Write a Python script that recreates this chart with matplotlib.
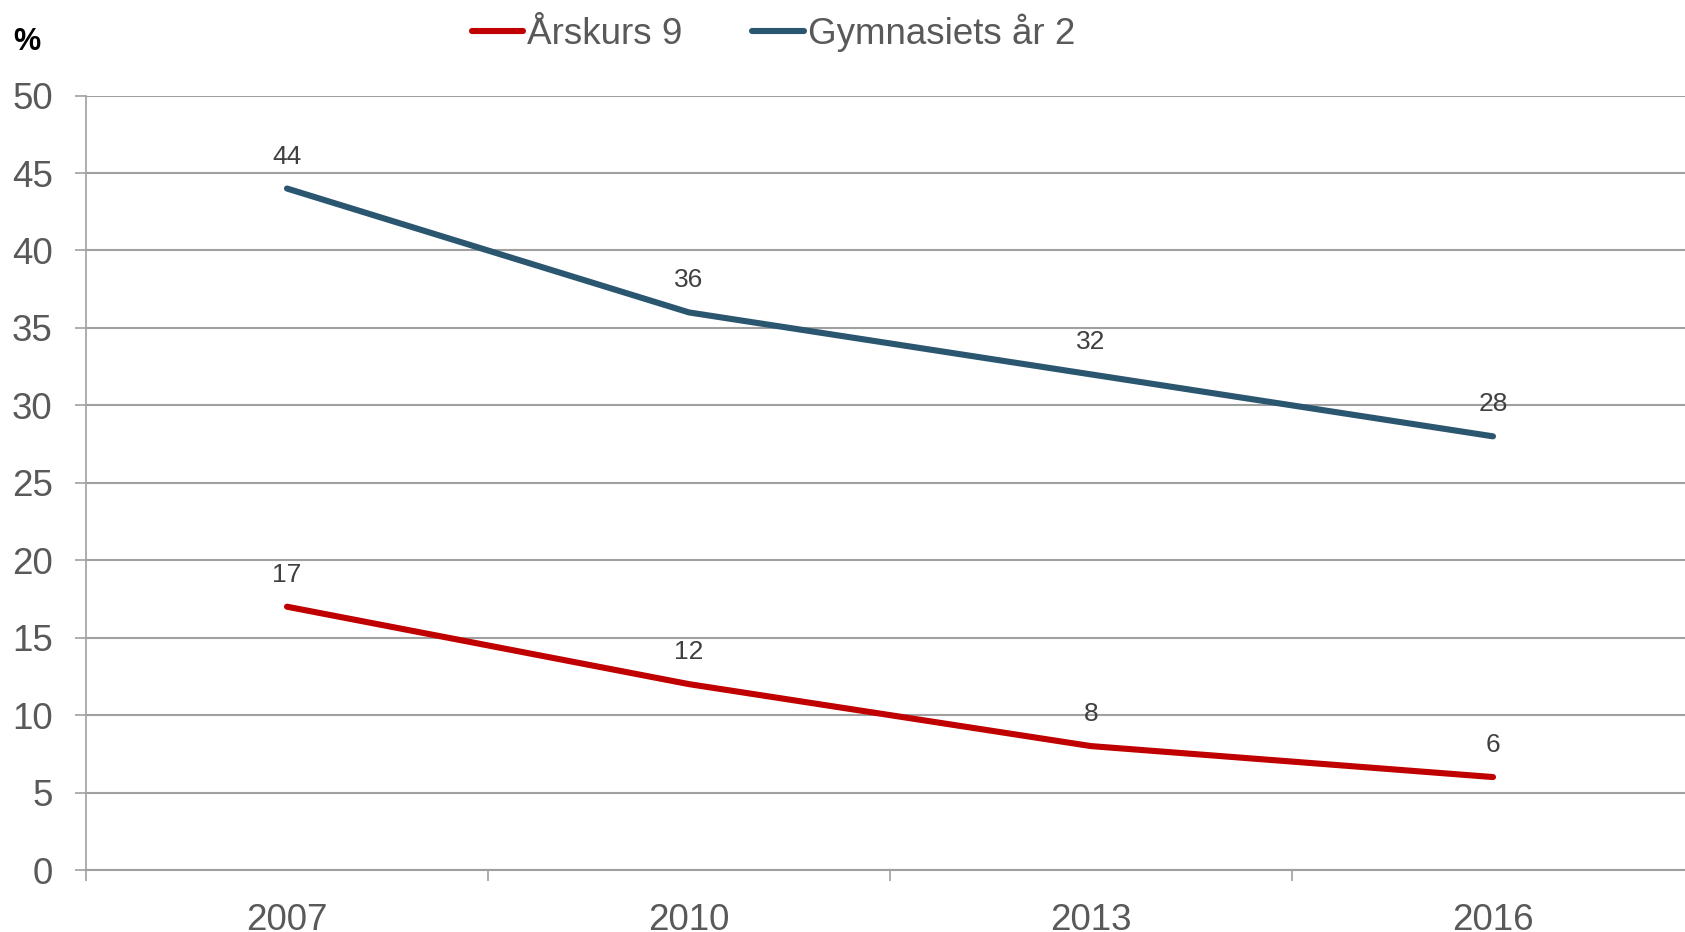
import matplotlib.pyplot as plt
import numpy as np

# Data
years = ['2007', '2010', '2013', '2016']
arskurs9 = [17, 12, 8, 6]
gymnasiet = [44, 36, 32, 28]
series_names = ['Årskurs 9', 'Gymnasiets år 2']

plt.rcParams['font.family'] = ['Liberation Sans', 'DejaVu Sans']

fig = plt.figure(figsize=(16.85, 9.32), dpi=100)
ax = fig.add_axes([86 / 1685, 62 / 932, 1608 / 1685, 774.4 / 932])

x = np.arange(len(years))
red = '#C00000'
blue = '#2B5670'
grid_col = '#A0A0A0'
text_col = '#595959'

l1, = ax.plot(x, arskurs9, color=red, lw=4.4, solid_capstyle='round', zorder=3)
l2, = ax.plot(x, gymnasiet, color=blue, lw=4.4, solid_capstyle='round', zorder=3)

# Data labels above each point
for xs, ys in [(x, arskurs9), (x, gymnasiet)]:
    for xi, yi in zip(xs, ys):
        ax.annotate(str(yi), (xi, yi), xytext=(0, 23), textcoords='offset points',
                    ha='center', va='center', fontsize=19, color='#404040')

ax.set_xlim(-0.5, len(years) - 0.5)
ax.set_ylim(0, 50)
ax.set_yticks(range(0, 51, 5))
ax.yaxis.grid(True, color=grid_col, lw=1.5)
ax.set_axisbelow(True)

# category boundary ticks, labels centered in categories
ax.set_xticks(np.arange(-0.5, len(years), 1.0))
ax.set_xticklabels([])
ax.set_xticks(x, minor=True)
ax.set_xticklabels(years, minor=True)
ax.tick_params(axis='x', which='major', length=8, width=1.2, color=grid_col)
ax.tick_params(axis='x', which='minor', length=0, pad=24, labelsize=26.5, labelcolor=text_col)
ax.tick_params(axis='y', length=8, width=1.2, color=grid_col, pad=16,
               labelsize=26.5, labelcolor=text_col)

for s in ['top', 'right']:
    ax.spines[s].set_visible(False)
ax.spines['left'].set_color(grid_col)
ax.spines['left'].set_linewidth(1.2)
ax.spines['bottom'].set_color(grid_col)
ax.spines['bottom'].set_linewidth(1.5)

fig.text(0.008, 0.955, '%', fontsize=22, fontweight='bold', color='black', va='center')

leg = fig.legend([l1, l2], series_names, loc='center', bbox_to_anchor=(0.459, 0.965),
                 ncol=2, frameon=False, fontsize=26.5, handlelength=1.4,
                 handletextpad=0.1, columnspacing=1.9, labelcolor=text_col)

fig.savefig('out.png', dpi=100)
